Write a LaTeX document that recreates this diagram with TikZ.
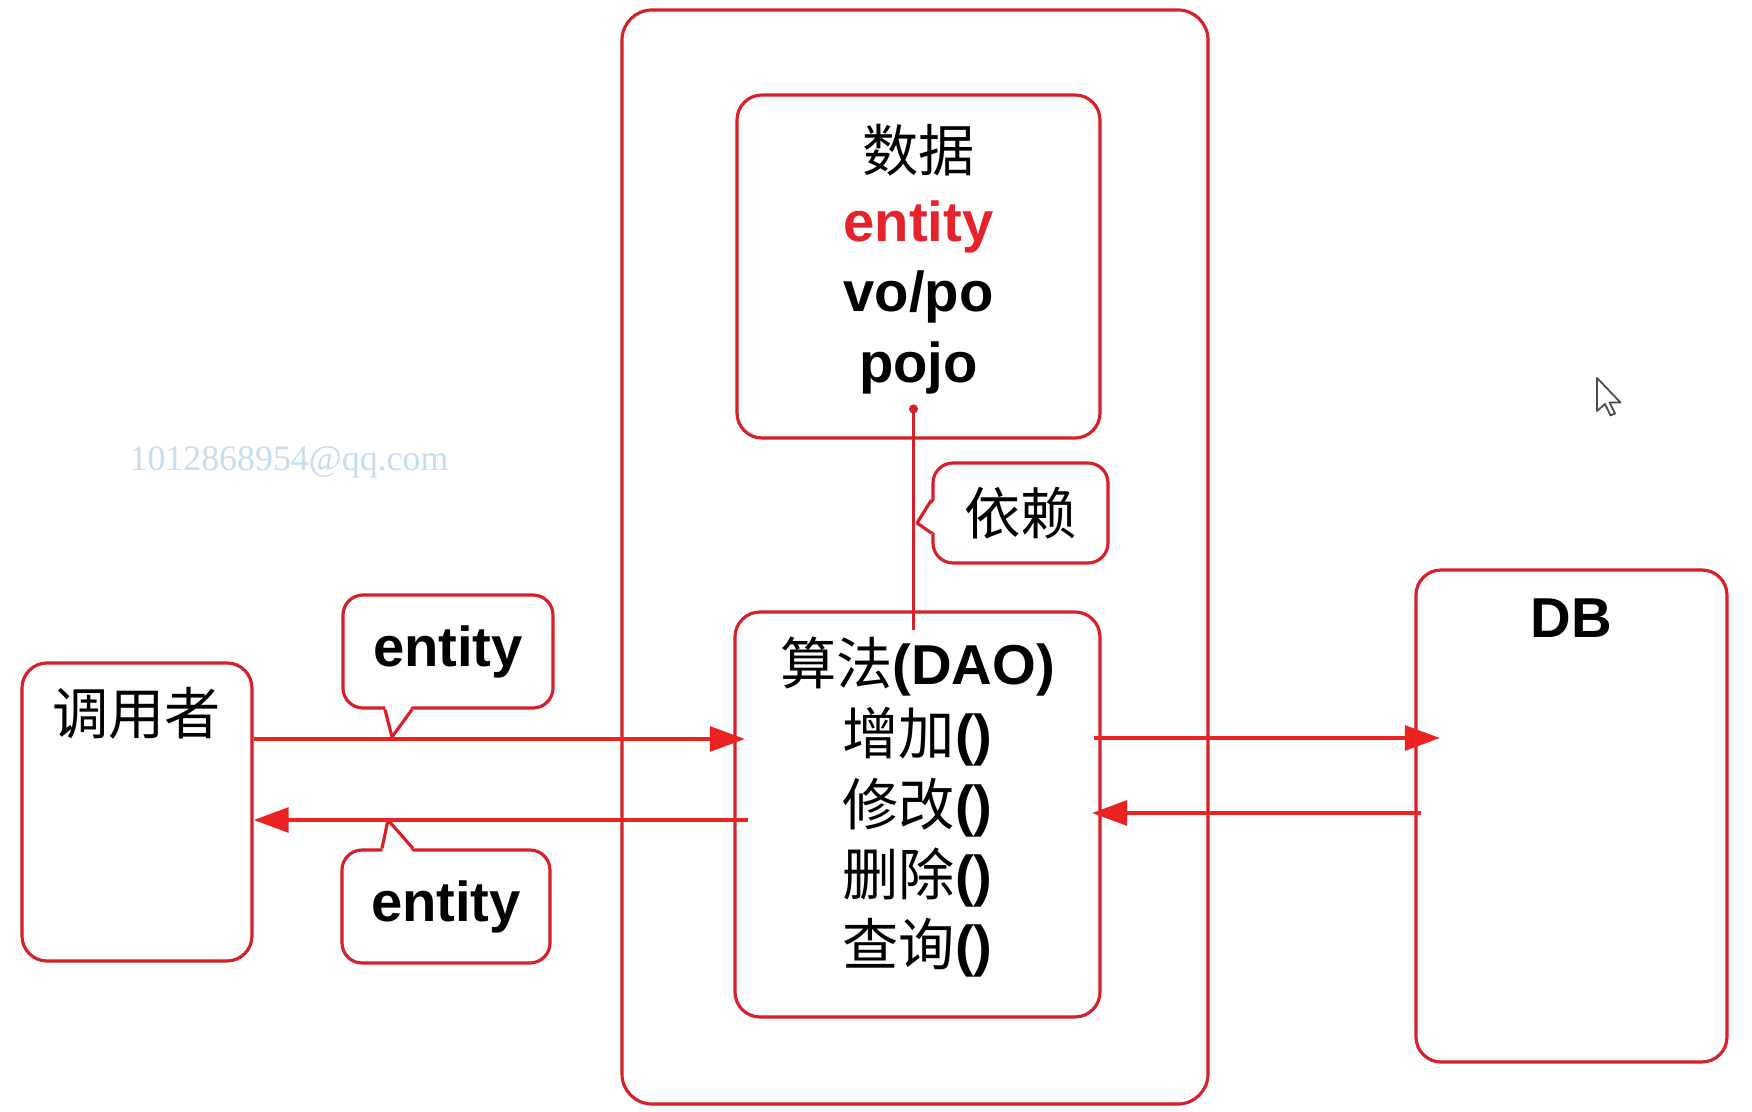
\documentclass[tikz,border=0pt]{standalone}
\usepackage{fontspec}
\usepackage{xcolor}
\usepackage{tikz}
\usetikzlibrary{arrows.meta}
\setmainfont{Liberation Sans}
\newfontfamily\cjk{Noto Sans CJK SC}
\newfontfamily\mailfont{Liberation Serif}
\definecolor{boxred}{RGB}{214,32,42}
\definecolor{arrowred}{RGB}{236,34,34}
\definecolor{entityred}{RGB}{228,36,44}
\definecolor{mailblue}{RGB}{198,222,240}

\begin{document}
\begin{tikzpicture}[>={Triangle[length=10pt,width=7pt]},
    box/.style={rectangle,draw=boxred,line width=0.9pt,rounded corners=2.5mm,inner sep=0pt},
    tag/.style={rectangle,draw=boxred,line width=0.9pt,rounded corners=2mm,fill=white,inner sep=0pt,font=\fontsize{16}{20}\selectfont\bfseries},
    txt/.style={inner sep=0pt,align=center,font=\fontsize{16}{20}\selectfont},
    flow/.style={->,draw=arrowred,line width=1.2pt},
    tagline/.style={draw=boxred,line width=0.9pt,line join=round}]
    \path[use as bounding box,fill=white] (0,0) rectangle (17.52,-11.12);

    % boxes
    \node[box,minimum width=5.86cm,minimum height=10.94cm,rounded corners=3mm] (outer) at (9.15,-5.57) {};
    \node[box,minimum width=3.63cm,minimum height=3.43cm,
        label={[txt,anchor=north,yshift=-3mm]north:{{\cjk 数据}\\\textcolor{entityred}{\textbf{entity}}\\\textbf{vo/po}\\\textbf{pojo}}}] (data) at (9.185,-2.665) {};
    \node[box,minimum width=3.65cm,minimum height=4.05cm,
        label={[txt,anchor=north,yshift=-2.6mm]north:{{\cjk 算法}\textbf{(DAO)}\\{\cjk 增加}\textbf{()}\\{\cjk 修改}\textbf{()}\\{\cjk 删除}\textbf{()}\\{\cjk 查询}\textbf{()}}}] (dao) at (9.175,-8.145) {};
    \node[box,minimum width=2.30cm,minimum height=2.98cm,
        label={[txt,anchor=north west,xshift=3.1mm,yshift=-2.5mm]north west:{\cjk 调用者}}] (caller) at (1.37,-8.12) {};
    \node[box,minimum width=3.11cm,minimum height=4.92cm,
        label={[txt,anchor=north,yshift=-3mm]north:\textbf{DB}}] (db) at (15.715,-8.16) {};

    % callouts
    \node[tag,minimum width=2.10cm,minimum height=1.13cm] (tagin) at (4.48,-6.515) {entity};
    \node[tag,minimum width=2.08cm,minimum height=1.13cm] (tagout) at (4.46,-9.065) {entity};
    \node[tag,minimum width=1.75cm,minimum height=1.00cm,font=\fontsize{16}{20}\selectfont\cjk] (tagdep) at (10.205,-5.13) {依赖};
    \coordinate (tipin) at (3.92,-7.37);
    \coordinate (tipout) at (3.88,-8.20);
    \coordinate (tipdep) at (9.17,-5.23);
    \fill[white] ([xshift=-6.3mm,yshift=1pt]tagin.south) -- (tipin) -- ([xshift=-3.6mm,yshift=1pt]tagin.south) -- cycle;
    \draw[tagline] ([xshift=-6.3mm]tagin.south) -- (tipin) -- ([xshift=-3.6mm]tagin.south);
    \fill[white] ([xshift=-6.4mm,yshift=-1pt]tagout.north) -- (tipout) -- ([xshift=-3.3mm,yshift=-1pt]tagout.north) -- cycle;
    \draw[tagline] ([xshift=-6.4mm]tagout.north) -- (tipout) -- ([xshift=-3.3mm]tagout.north);
    \fill[white] ([xshift=1pt,yshift=1.3mm]tagdep.west) -- (tipdep) -- ([xshift=1pt,yshift=-2.0mm]tagdep.west) -- cycle;
    \draw[tagline] ([yshift=1.3mm]tagdep.west) -- (tipdep) -- ([yshift=-2.0mm]tagdep.west);

    % connectors
    \coordinate (daoin) at (7.45,-7.39);
    \coordinate (callerin) at (7.48,-8.20);
    \coordinate (dbin) at (14.40,-7.38);
    \coordinate (daoback) at (10.92,-8.13);
    \draw[flow] (caller.east |- daoin) -- (daoin);
    \draw[flow] (callerin) -- (caller.east |- callerin);
    \draw[flow] ([xshift=-0.8mm]dao.east |- dbin) -- (dbin);
    \draw[flow] ([xshift=0.7mm]db.west |- daoback) -- (daoback);
    \draw[draw=boxred,line width=0.8pt,{Circle[length=2.5pt]}-] ([xshift=-0.5mm,yshift=3.5mm]data.south) -- ([xshift=-0.5mm,yshift=-2mm]data.south |- dao.north);

    % watermark and pointer
    \node[inner sep=0pt,text=mailblue,font=\mailfont\fontsize{10.2}{12}\selectfont] (mail) at (2.89,-4.62) {1012868954@qq.com};
    \draw[gray!60!black,line width=0.5pt,fill=white,line join=round,shift={(15.97,-3.78)}]
        (0,0) -- (0,-0.33) -- (0.08,-0.26) -- (0.135,-0.375) -- (0.18,-0.355) -- (0.125,-0.245) -- (0.235,-0.245) -- cycle;
\end{tikzpicture}
\end{document}
